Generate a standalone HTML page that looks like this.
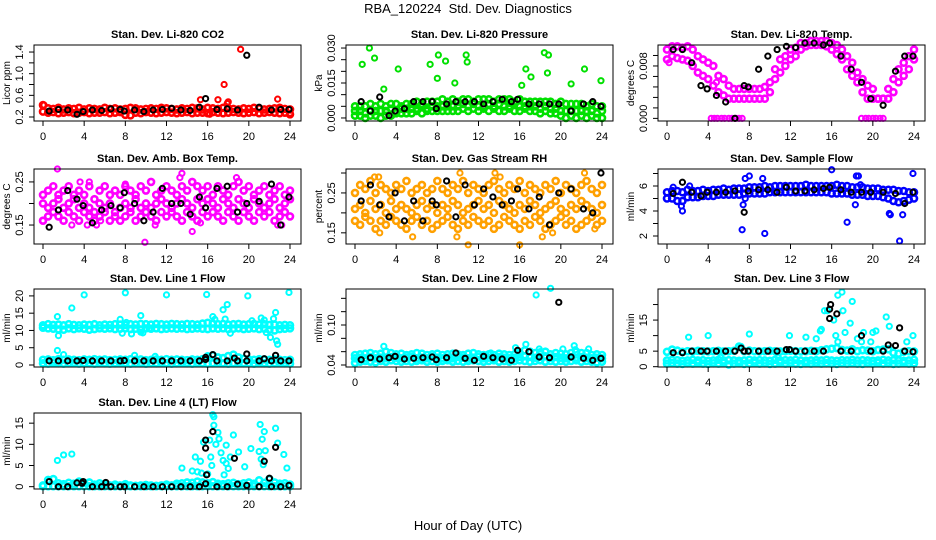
<!DOCTYPE html>
<html><head><meta charset="utf-8"><title>RBA_120224 Std. Dev. Diagnostics</title>
<style>
html,body{margin:0;padding:0;background:#fff;}
svg{display:block;font-family:"Liberation Sans",Arial,sans-serif;}
</style></head>
<body>
<svg id="chart" xmlns="http://www.w3.org/2000/svg" width="936" height="540" viewBox="0 0 936 540">
<rect width="936" height="540" fill="#fff"/>
<text x="468" y="13" text-anchor="middle" font-size="13" style="white-space:pre">RBA_120224  Std. Dev. Diagnostics</text>
<text x="468" y="530" text-anchor="middle" font-size="13">Hour of Day (UTC)</text>
</svg>
<script>
// ---------- data ----------
const blackHours = [0.6,1.5,2.4,3.3,3.9,4.8,5.7,6.6,7.5,7.9,8.9,9.8,10.7,11.6,12.5,13.4,14.3,15.2,15.8,16.9,17.9,18.9,19.8,21.0,22.2,23.1,23.9];

const co2Hi = [0.42,0.36,0.35,0.37,0.34,0.36,0.35,0.37,0.34,0.36,0.35,0.34,0.37,0.35,0.36,0.34,0.35,0.37,0.36,0.34,0.35,0.36,0.35,0.37,0.36,0.35,0.34,0.36,0.35,0.37,0.36,0.34,0.37,0.36,0.35,0.37,0.36,0.35,0.34,0.36,0.35,0.37,0.36,0.34,0.35,0.36,0.37,0.35,0.34];
const co2Lo = [0.30,0.28,0.29,0.27,0.28,0.29,0.27,0.28,0.29,0.27,0.28,0.28,0.29,0.27,0.28,0.29,0.24,0.23,0.28,0.27,0.29,0.28,0.27,0.28,0.29,0.28,0.27,0.28,0.29,0.27,0.28,0.28,0.27,0.29,0.28,0.27,0.28,0.29,0.28,0.27,0.28,0.29,0.27,0.28,0.29,0.28,0.27,0.28,0.25];
const co2OutX = [15.3,17.0,17.6,17.9,18.0,19.2,22.8,16.2,0.1,24.0];
const co2OutY = [0.52,0.52,0.80,0.45,0.48,1.45,0.53,0.25,0.42,0.27];
const co2Blk = [0.31,0.34,0.33,0.25,0.30,0.33,0.32,0.35,0.34,0.31,0.33,0.30,0.33,0.34,0.36,0.33,0.32,0.38,0.54,0.34,0.35,0.33,1.34,0.38,0.33,0.34,0.34];

const prHi = [0.005,0.005,0.005,0.006,0.005,0.006,0.005,0.006,0.006,0.005,0.006,0.006,0.007,0.006,0.007,0.007,0.007,0.008,0.007,0.008,0.007,0.008,0.008,0.007,0.008,0.008,0.008,0.007,0.008,0.008,0.008,0.007,0.008,0.007,0.007,0.007,0.007,0.007,0.007,0.006,0.007,0.006,0.006,0.006,0.006,0.005,0.006,0.005,0.005];
const prMid = [0.003,0.003,0.002,0.003,0.003,0.003,0.003,0.004,0.003,0.004,0.004,0.004,0.004,0.005,0.004,0.005,0.005,0.005,0.005,0.005,0.005,0.006,0.005,0.006,0.005,0.005,0.006,0.005,0.006,0.005,0.005,0.006,0.005,0.005,0.005,0.005,0.004,0.005,0.004,0.004,0.003,0.003,0.003,0.003,0.003,0.003,0.003,0.002,0.003];
const prLo = [0.001,0.001,0.000,0.001,0.001,0.000,0.001,0.001,0.002,0.002,0.002,0.002,0.003,0.002,0.003,0.003,0.003,0.003,0.003,0.003,0.003,0.004,0.003,0.004,0.003,0.004,0.003,0.004,0.003,0.003,0.004,0.003,0.003,0.004,0.003,0.003,0.002,0.003,0.002,0.002,0.001,0.000,0.001,0.000,0.001,0.000,0.001,0.000,0.000];
const prOutX = [0.7,1.4,1.9,2.8,4.2,7.3,8.0,8.1,8.8,9.7,10.8,10.9,16.2,16.6,17.1,18.4,18.7,18.8,21.0,22.3,23.9];
const prOutY = [0.023,0.030,0.0257,0.0124,0.021,0.023,0.017,0.027,0.0244,0.015,0.027,0.024,0.014,0.021,0.0176,0.028,0.0193,0.027,0.0146,0.021,0.016];
const prBlk = [0.007,0.003,0.009,0.001,0.003,0.004,0.007,0.007,0.007,0.004,0.006,0.007,0.007,0.007,0.006,0.007,0.008,0.007,0.008,0.006,0.006,0.006,0.006,0.003,0.006,0.007,0.005];

const tHi = [0.0105,0.011,0.011,0.0108,0.011,0.0105,0.0095,0.009,0.0085,0.008,0.0065,0.006,0.005,0.0045,0.0045,0.0045,0.0045,0.0045,0.0045,0.0048,0.0055,0.0075,0.009,0.0095,0.0105,0.0108,0.0115,0.0115,0.0118,0.0118,0.0118,0.0118,0.0115,0.0112,0.0105,0.0095,0.0085,0.007,0.006,0.005,0.0045,0.003,0.003,0.0045,0.006,0.0075,0.0085,0.0095,0.0105];
const tLo = [0.009,0.0095,0.0092,0.009,0.0088,0.008,0.007,0.0065,0.006,0.005,0.004,0.0035,0.003,0.003,0.003,0.003,0.003,0.003,0.003,0.003,0.004,0.006,0.007,0.008,0.009,0.0095,0.0105,0.011,0.0112,0.0112,0.0112,0.011,0.0105,0.0098,0.009,0.0075,0.0065,0.0055,0.004,0.003,0.003,0.003,0.003,0.003,0.004,0.0055,0.0065,0.0075,0.009];
const tOutX = [4.3,4.6,4.9,5.3,5.6,6.0,6.3,6.7,7.0,7.3,18.9,19.3,19.6,20.0,20.3,20.7,21.0,0.2,4.8];
const tOutY = [0,0,0,0,0,0,0,0,0,0,0,0,0,0,0,0,0,0.0085,0.0055];
const tBlk = [0.0105,0.0105,0.0085,0.005,0.0045,0.0035,0.0025,0.0,0.005,0.0048,0.0075,0.0095,0.0105,0.011,0.0108,0.0115,0.0115,0.0112,0.0115,0.0095,0.0075,0.0055,0.003,0.002,0.0072,0.0095,0.0095];

const abHi = [0.22,0.23,0.24,0.22,0.23,0.24,0.22,0.23,0.22,0.24,0.21,0.23,0.24,0.22,0.23,0.22,0.24,0.23,0.22,0.24,0.23,0.25,0.22,0.23,0.24,0.23,0.22,0.24,0.23,0.25,0.24,0.23,0.24,0.22,0.24,0.23,0.22,0.24,0.25,0.23,0.24,0.22,0.23,0.24,0.22,0.23,0.24,0.22,0.23];
const abMid = [0.20,0.19,0.20,0.21,0.19,0.20,0.21,0.19,0.20,0.19,0.18,0.20,0.19,0.20,0.18,0.19,0.20,0.19,0.21,0.19,0.20,0.19,0.20,0.21,0.20,0.19,0.20,0.21,0.20,0.19,0.21,0.20,0.21,0.20,0.19,0.21,0.20,0.19,0.21,0.20,0.19,0.21,0.20,0.19,0.20,0.21,0.19,0.20,0.21];
const abLo = [0.16,0.17,0.18,0.17,0.16,0.18,0.17,0.16,0.18,0.17,0.16,0.17,0.18,0.16,0.17,0.16,0.17,0.18,0.16,0.17,0.18,0.17,0.16,0.18,0.17,0.18,0.17,0.16,0.18,0.17,0.16,0.18,0.17,0.18,0.17,0.16,0.18,0.17,0.16,0.18,0.17,0.16,0.18,0.17,0.18,0.16,0.17,0.18,0.17];
const abOutX = [1.4,0.0,2.8,3.6,4.3,5.2,5.6,9.9,10.9,13.5,13.3,14.5,15.3,18.8,22.8,23.2,4.5,8.0];
const abOutY = [0.28,0.16,0.15,0.25,0.15,0.15,0.16,0.11,0.15,0.27,0.26,0.135,0.155,0.26,0.15,0.15,0.25,0.245];
const abBlk = [0.145,0.185,0.23,0.21,0.195,0.155,0.185,0.195,0.19,0.225,0.2,0.16,0.18,0.235,0.2,0.2,0.175,0.215,0.19,0.235,0.24,0.18,0.2,0.205,0.245,0.15,0.215];

const rhHi = [0.25,0.27,0.26,0.28,0.25,0.27,0.26,0.25,0.27,0.26,0.28,0.25,0.26,0.27,0.25,0.26,0.28,0.26,0.25,0.27,0.26,0.28,0.25,0.27,0.26,0.25,0.27,0.28,0.26,0.25,0.27,0.26,0.28,0.25,0.27,0.26,0.25,0.27,0.26,0.28,0.25,0.27,0.26,0.25,0.27,0.28,0.26,0.25,0.27];
const rhMid = [0.21,0.22,0.20,0.23,0.21,0.22,0.20,0.23,0.21,0.22,0.21,0.20,0.22,0.23,0.21,0.22,0.20,0.22,0.21,0.23,0.22,0.20,0.21,0.22,0.23,0.21,0.22,0.20,0.23,0.22,0.21,0.20,0.22,0.21,0.23,0.22,0.20,0.21,0.22,0.23,0.21,0.20,0.22,0.21,0.23,0.22,0.21,0.20,0.22];
const rhLo = [0.18,0.17,0.19,0.18,0.16,0.18,0.17,0.19,0.18,0.17,0.16,0.18,0.19,0.17,0.18,0.16,0.17,0.18,0.19,0.17,0.16,0.18,0.17,0.19,0.18,0.17,0.18,0.16,0.17,0.19,0.18,0.17,0.16,0.18,0.17,0.19,0.18,0.16,0.17,0.18,0.19,0.17,0.18,0.16,0.17,0.18,0.19,0.17,0.18];
const rhOutX = [1.9,2.4,5.6,9.9,11.0,13.6,14.1,16.0,18.2,19.2,22.3,23.3,2.3,10.2];
const rhOutY = [0.29,0.15,0.14,0.14,0.12,0.30,0.29,0.12,0.14,0.15,0.30,0.16,0.29,0.30];
const rhBlk = [0.23,0.27,0.22,0.19,0.25,0.18,0.23,0.18,0.23,0.22,0.28,0.19,0.27,0.22,0.26,0.24,0.22,0.23,0.26,0.21,0.24,0.17,0.25,0.26,0.21,0.20,0.30];

const sfHi = [5.5,5.6,5.6,5.5,5.7,5.6,5.6,5.7,5.6,5.7,5.7,5.8,5.7,5.8,5.8,5.8,5.9,5.9,5.9,6.0,5.9,6.0,6.0,6.0,6.0,6.0,6.0,6.1,6.0,6.0,6.0,6.0,6.0,6.1,6.0,6.0,5.9,5.9,5.9,5.8,5.8,5.8,5.7,5.7,5.7,5.6,5.6,5.5,5.5];
const sfLo = [5.0,5.0,4.8,4.8,5.1,5.1,5.1,5.2,5.2,5.2,5.3,5.3,5.3,5.3,5.3,5.4,5.4,5.4,5.4,5.4,5.5,5.5,5.5,5.5,5.5,5.5,5.5,5.5,5.5,5.5,5.5,5.5,5.4,5.4,5.4,5.4,5.3,5.3,5.3,5.2,5.2,5.2,5.1,5.0,4.8,4.7,4.8,4.9,5.0];
const sfOutX = [0.6,1.4,1.5,2.2,7.3,7.4,7.6,7.6,8.0,9.3,9.5,16.0,17.5,18.3,18.4,18.6,21.6,21.7,22.6,22.9,23.9,18.8];
const sfOutY = [5.9,4.4,4.0,6.0,2.5,4.5,5.0,6.6,6.8,6.6,2.2,7.3,3.1,4.5,6.8,6.8,3.8,3.7,1.6,3.7,7.0,6.1];
const sfBlk = [5.4,6.3,5.5,5.2,5.5,5.5,5.5,5.6,3.9,5.6,5.7,5.7,5.5,5.9,5.6,5.6,5.7,5.8,5.9,5.7,5.5,5.5,5.5,5.5,5.4,4.6,5.5];

const l1Hi = [11.5,11.8,11.6,11.7,11.5,11.8,11.6,11.5,11.7,11.6,11.8,11.5,11.7,11.6,11.8,11.7,11.6,11.8,11.7,11.9,11.8,11.7,11.9,11.8,11.7,11.9,11.8,11.7,11.9,11.8,11.7,12.0,12.2,12.0,11.8,11.9,11.7,11.8,11.9,11.7,11.8,11.9,11.7,11.8,11.6,11.7,11.5,11.6,11.5];
const l1Lo = [10.8,10.6,10.5,10.3,10.2,10.6,10.4,10.6,10.5,10.2,10.4,10.6,10.5,10.6,10.4,10.5,10.6,10.4,10.5,10.3,10.6,10.5,10.6,10.4,10.5,10.6,10.5,10.6,10.4,10.5,10.6,10.5,10.4,10.6,10.5,10.6,10.4,10.5,10.6,10.4,10.5,10.6,10.4,10.5,10.2,10.0,10.4,10.5,10.6];
const l1Base = [0.5,0.4,0.6,0.5,0.4,0.5,0.6,0.4,0.5,0.5,0.4,0.6,0.5,0.4,0.5,0.6,0.5,0.4,0.5,0.6,0.4,0.5,0.5,0.6,0.5,0.4,0.5,0.6,0.5,0.4,0.6,0.5,0.4,0.5,0.6,0.5,0.4,0.5,0.6,0.5,0.5,0.4,0.6,0.5,0.4,0.5,0.6,0.5,0.4];
const l1Base2 = [1.5,1.6,1.4,1.7,1.5,1.6,1.5,1.4,1.6,1.5,1.7,1.5,1.6,1.4,1.5,1.6,1.5,1.7,1.5,1.6,1.4,1.5,1.6,1.5,1.7,1.5,1.6,1.5,1.4,1.6,1.5,1.7,2.5,2.8,2.2,2.0,2.6,3.0,2.2,1.8,1.6,1.5,1.7,1.6,1.5,1.6,1.5,1.4,1.5];
const l1OutX = [1.4,1.5,1.4,2.0,2.8,4.0,7.5,7.7,8.0,8.1,8.6,8.9,9.5,9.7,10.9,12.0,15.9,16.5,16.7,17.5,17.7,17.9,18.2,19.9,20.3,21.2,21.5,21.7,22.1,22.4,22.6,22.7,22.8,23.9,9.5,10.3];
const l1OutY = [14.0,8.5,4.2,3.0,16.5,20.3,13.2,9.2,20.9,12.3,9.0,2.8,14.3,9.3,2.5,20.3,20.4,14.0,13.2,16.0,13.3,17.5,9.2,20.0,12.8,13.6,13.0,9.4,8.0,13.4,15.2,7.0,6.0,21.0,9.5,10.5];
const l1Blk = [1.2,1.2,1.2,1.2,1.3,1.2,1.2,1.2,1.2,1.3,1.2,1.2,1.2,1.2,1.2,1.2,1.2,1.2,2.2,1.2,1.2,1.2,1.2,1.2,1.2,1.2,1.2];
const l1BlkOutX = [16.5,19.8,22.6,18.6,21.5,15.8];
const l1BlkOutY = [3.0,3.2,2.8,2.0,1.8,1.6];

const l2Hi = [0.055,0.056,0.057,0.058,0.056,0.057,0.060,0.058,0.056,0.057,0.055,0.056,0.058,0.057,0.055,0.056,0.057,0.055,0.056,0.057,0.056,0.055,0.057,0.058,0.056,0.055,0.056,0.055,0.057,0.056,0.055,0.056,0.058,0.062,0.060,0.058,0.059,0.060,0.056,0.058,0.057,0.056,0.058,0.060,0.058,0.058,0.055,0.056,0.055];
const l2Mid = [0.050,0.051,0.050,0.052,0.050,0.051,0.050,0.052,0.051,0.050,0.051,0.052,0.050,0.051,0.050,0.052,0.051,0.050,0.051,0.050,0.052,0.051,0.050,0.051,0.052,0.050,0.051,0.050,0.052,0.051,0.050,0.051,0.052,0.053,0.052,0.051,0.052,0.053,0.051,0.052,0.051,0.050,0.052,0.051,0.052,0.051,0.050,0.051,0.050];
const l2Lo = [0.043,0.045,0.046,0.045,0.044,0.046,0.045,0.047,0.046,0.045,0.046,0.045,0.046,0.047,0.045,0.046,0.045,0.046,0.047,0.045,0.046,0.045,0.046,0.047,0.046,0.045,0.046,0.047,0.045,0.046,0.045,0.046,0.047,0.046,0.045,0.046,0.047,0.045,0.046,0.045,0.046,0.045,0.046,0.047,0.045,0.046,0.045,0.044,0.045];
const l2OutX = [2.8,15.6,16.6,17.6,19.0,21.3,21.4,22.7,20.2,17.9,13.2];
const l2OutY = [0.068,0.066,0.071,0.145,0.155,0.069,0.063,0.064,0.064,0.064,0.058];
const l2Blk = [0.048,0.051,0.049,0.051,0.053,0.049,0.050,0.051,0.052,0.048,0.051,0.058,0.050,0.047,0.053,0.051,0.049,0.047,0.062,0.060,0.052,0.051,0.134,0.052,0.050,0.047,0.050];

const l3Lo = [1.0,1.2,1.0,0.9,1.1,1.0,1.2,1.0,0.9,1.1,1.0,1.2,0.7,1.0,1.1,0.9,1.0,1.2,1.0,1.1,0.9,1.0,1.2,1.0,1.1,1.0,0.9,1.1,1.0,1.2,1.0,1.1,1.0,0.9,1.1,1.0,1.2,1.0,0.9,1.1,1.0,1.2,1.0,1.1,0.9,1.0,1.2,1.0,1.1];
const l3Hi = [2.0,2.2,2.1,1.9,2.0,2.2,2.0,2.1,1.9,2.0,2.2,2.0,2.1,2.0,1.9,2.0,2.2,2.0,2.1,2.0,1.9,2.2,2.0,2.1,2.0,2.2,2.0,1.9,2.0,2.1,2.0,2.2,2.0,1.9,2.1,2.0,2.2,2.0,2.1,2.0,1.9,2.0,2.2,2.0,2.1,2.0,1.9,2.0,2.2];
const l3Up = [4.8,5.5,5.2,4.8,5.0,4.9,5.1,5.0,4.9,5.0,5.1,4.9,5.0,5.1,6.5,5.0,5.2,5.0,4.9,5.0,5.1,5.0,4.9,5.0,5.1,5.0,4.9,5.0,5.1,5.0,5.3,5.6,5.8,6.0,5.4,5.2,5.6,5.0,5.3,5.2,5.0,5.4,5.5,5.6,4.5,4.2,4.8,5.0,4.9];
const l3OutX = [15.3,15.6,16.2,16.6,17.0,17.1,18.0,17.8,17.3,16.4,16.6,18.5,19.1,20.0,20.3,21.3,21.6,23.9,2.1,4.0,8.0,11.9,13.5,14.5,14.9,15.0,7.2,23.3,18.9,19.8,5.2,10.8];
const l3OutY = [18.0,18.0,15.0,23.0,24.0,18.0,21.0,14.0,11.0,10.0,8.0,9.0,11.0,11.0,11.5,16.0,13.0,10.0,9.5,10.0,10.5,10.0,9.5,9.0,11.5,12.0,6.5,8.0,8.0,8.0,3.0,3.0];
const l3Blk = [4.5,4.5,5.0,5.0,5.0,5.0,5.0,5.0,5.0,5.0,5.0,5.0,5.0,5.5,5.0,5.0,5.0,5.0,15.5,5.0,5.0,10.0,5.0,5.0,6.8,5.0,4.8];
const l3BlkOutX = [15.8,15.9,16.5,22.6,21.5,7.2,11.9];
const l3BlkOutY = [18.5,20.0,17.0,12.5,7.0,6.0,5.5];

const l4Lo = [0.1,0.1,0.1,0.1,0.1,0.1,0.1,0.1,0.1,0.1,0.1,0.1,0.1,0.1,0.1,0.1,0.1,0.1,0.1,0.1,0.1,0.1,0.1,0.1,0.1,0.1,0.1,0.1,0.1,0.1,0.1,0.1,0.1,0.1,0.1,0.1,0.1,0.1,0.1,0.1,0.1,0.1,0.1,0.1,0.1,0.1,0.1,0.1,0.1];
const l4Hi = [0.3,1.6,1.8,0.8,0.6,0.9,0.7,1.2,0.9,1.0,0.5,0.8,0.6,0.3,0.5,0.3,0.6,0.3,0.2,0.3,0.4,0.3,0.2,0.3,0.5,0.3,0.7,0.8,1.0,0.9,1.2,1.0,0.8,1.1,0.7,0.6,0.8,0.9,0.6,0.8,1.0,0.7,1.5,0.9,1.8,1.0,0.7,0.8,0.5];
const l4OutX = [1.4,2.0,2.8,13.5,14.5,14.8,15.0,15.3,15.4,15.6,16.0,16.2,16.3,16.4,16.5,16.6,16.6,16.8,17.0,17.1,17.3,17.5,17.6,17.8,17.8,18.0,18.2,18.5,19.0,19.6,20.2,21.0,21.1,21.3,21.2,21.4,21.5,21.6,22.6,22.8,23.4,23.7];
const l4OutY = [6.2,7.5,7.7,4.4,3.7,7.0,3.5,6.0,3.2,10.5,3.0,11.0,7.0,5.0,17.0,16.5,14.5,10.0,12.8,11.3,8.0,6.2,2.8,9.8,5.5,4.3,7.0,12.2,8.2,4.7,9.0,8.3,14.7,11.2,6.5,5.2,13.0,8.5,13.8,10.3,7.6,4.4];
const l4Blk = [1.2,0,0,0.9,1.2,0,0,0,0,0,0,0,0,0,0,0,0,0,0.7,0,0,0.6,0.3,0,0,0,0.3];
const l4BlkOutX = [15.8,15.8,15.9,16.5,18.6,22.6,21.5,22.0,3.8,6.1];
const l4BlkOutY = [11.0,9.1,2.8,13.0,6.7,9.3,6.0,2.0,0.8,1.0];

const xTickVals = [0,4,8,12,16,20,24];

// ---------- panel layout (geometry only) ----------
const colLeft = [34,346,658];
const rowTop = [45,169,289,413];
const rowH = [76,75,78,76];
const PW = 267;

const panels = [
 {id:'co2',title:'Stan. Dev. Li-820 CO2',ylab:'Licor ppm',c:0,r:0,dom:[0.126,1.53],ticks:[0.2,0.4,0.6,0.8,1.0,1.2,1.4],labs:{'0.2':'0.2','0.6':'0.6','1':'1.0','1.4':'1.4'},color:'#ff0000',layers:[co2Lo,co2Hi],ox:co2OutX,oy:co2OutY,blk:co2Blk},
 {id:'pressure',title:'Stan. Dev. Li-820 Pressure',ylab:'kPa',c:1,r:0,dom:[-0.0013,0.0313],ticks:[0,0.005,0.01,0.015,0.02,0.025,0.03],labs:{'0':'0.000','0.015':'0.015','0.03':'0.030'},color:'#00e000',layers:[prLo,prMid,prHi],ox:prOutX,oy:prOutY,blk:prBlk},
 {id:'temp',title:'Stan. Dev. Li-820 Temp.',ylab:'degrees C',c:2,r:0,dom:[-0.0004,0.0112],ticks:[0,0.0016,0.0032,0.0048,0.0064,0.008,0.0096],labs:{'0':'0.000','0.008':'0.008'},color:'#ff00ff',layers:[tLo,tHi],ox:tOutX,oy:tOutY,blk:tBlk},
 {id:'ambbox',title:'Stan. Dev. Amb. Box Temp.',ylab:'degrees C',c:0,r:1,dom:[0.106,0.28],ticks:[0.15,0.2,0.25],labs:{'0.15':'0.15','0.25':'0.25'},color:'#ff00ff',layers:[abLo,abMid,abHi],ox:abOutX,oy:abOutY,blk:abBlk},
 {id:'rh',title:'Stan. Dev. Gas Stream RH',ylab:'percent',c:1,r:1,dom:[0.122,0.31],ticks:[0.15,0.2,0.25,0.3],labs:{'0.15':'0.15','0.25':'0.25'},color:'#ffa000',layers:[rhLo,rhMid,rhHi],ox:rhOutX,oy:rhOutY,blk:rhBlk},
 {id:'sampleflow',title:'Stan. Dev. Sample Flow',ylab:'ml/min',c:2,r:1,dom:[1.36,7.36],ticks:[2,3,4,5,6,7],labs:{'2':'2','4':'4','6':'6'},color:'#0000ff',layers:[sfLo,sfHi],ox:sfOutX,oy:sfOutY,blk:sfBlk},
 {id:'line1',title:'Stan. Dev. Line 1 Flow',ylab:'ml/min',c:0,r:2,dom:[-0.58,22.0],ticks:[0,5,10,15,20],labs:{'0':'0','5':'5','10':'10','15':'15','20':'20'},color:'#00ffff',layers:[l1Base,l1Base2,l1Lo,l1Hi],ox:l1OutX,oy:l1OutY,blk:l1Blk,bx:l1BlkOutX,by:l1BlkOutY},
 {id:'line2',title:'Stan. Dev. Line 2 Flow',ylab:'ml/min',c:1,r:2,dom:[0.037,0.154],ticks:[0.04,0.06,0.08,0.1,0.12,0.14],labs:{'0.04':'0.04','0.1':'0.10'},color:'#00ffff',layers:[l2Lo,l2Mid,l2Hi],ox:l2OutX,oy:l2OutY,blk:l2Blk},
 {id:'line3',title:'Stan. Dev. Line 3 Flow',ylab:'ml/min',c:2,r:2,dom:[-0.1,25],ticks:[0,5,10,15,20],labs:{'0':'0','5':'5','15':'15'},color:'#00ffff',layers:[l3Lo,l3Hi,l3Up],ox:l3OutX,oy:l3OutY,blk:l3Blk,bx:l3BlkOutX,by:l3BlkOutY},
 {id:'line4',title:'Stan. Dev. Line 4 (LT) Flow',ylab:'ml/min',c:0,r:3,dom:[-0.55,17.4],ticks:[0,5,10,15],labs:{'0':'0','5':'5','10':'10','15':'15'},color:'#00ffff',layers:[l4Lo,l4Hi],ox:l4OutX,oy:l4OutY,blk:l4Blk,bx:l4BlkOutX,by:l4BlkOutY}
];

const NS='http://www.w3.org/2000/svg';
const svg=document.getElementById('chart');
function mk(tag,attrs,parent){const e=document.createElementNS(NS,tag);for(const k in attrs)e.setAttribute(k,attrs[k]);(parent||svg).appendChild(e);return e;}

panels.forEach(p=>{
  const L=colLeft[p.c], T=rowTop[p.r], H=rowH[p.r], B=T+H;
  const g=mk('g',{});
  
  
  const X=h=>L+9+h*247/24;
  const Y=v=>B-(v-p.dom[0])/(p.dom[1]-p.dom[0])*H;
  const t=mk('text',{x:L+PW/2,y:T-7,'text-anchor':'middle','font-size':'11','font-weight':'bold'},g);
  t.textContent=p.title;
  
  
  const pts=mk('g',{fill:'none','stroke-width':'2'},g);
  
  
  p.layers.forEach(arr=>{
    arr.forEach((v,i)=>{
      const c=mk('circle',{cx:X(i*0.5),cy:Y(v),r:3,stroke:p.color,'stroke-width':'2.6'},pts);
      
      
    });
  });
  p.ox.forEach((h,i)=>{
    const c=mk('circle',{cx:X(h),cy:Y(p.oy[i]),r:2.6,stroke:p.color},pts);
    
    
  });
  p.blk.forEach((v,i)=>{
    const c=mk('circle',{cx:X(blackHours[i]),cy:Y(v),r:2.6,stroke:'#000'},pts);
    
    
  });
  if(p.bx) p.bx.forEach((h,i)=>{
    const c=mk('circle',{cx:X(h),cy:Y(p.by[i]),r:2.6,stroke:'#000'},pts);
    
    
  });
  const bx=mk('rect',{x:L,y:T,width:PW,height:H,fill:'none',stroke:'#000','stroke-width':'1'},g);
  
  
  const xa=mk('g',{},g);
  
  
  xTickVals.forEach(v=>{
    mk('line',{x1:X(v),x2:X(v),y1:B,y2:B+5,stroke:'#000'},xa);
    const tl=mk('text',{x:X(v),y:B+19,'text-anchor':'middle','font-size':'11'},xa);
    tl.textContent=String(v);
    
    
  });
  const ya=mk('g',{},g);
  
  
  p.ticks.forEach(v=>{
    const y=Y(v);
    mk('line',{x1:L-5,x2:L,y1:y,y2:y,stroke:'#000'},ya);
    const key=String(+v.toFixed(6));
    if(p.labs[key]!==undefined){
      const tl=mk('text',{x:0,y:0,'text-anchor':'middle','font-size':'11',transform:`translate(${L-11},${y}) rotate(-90)`},ya);
      tl.textContent=p.labs[key];
      
      
    }
  });
  const yl=mk('text',{x:0,y:0,'text-anchor':'middle','font-size':'10',transform:`translate(${L-24},${T+H/2}) rotate(-90)`},g);
  yl.textContent=p.ylab;
  
  
});
</script>
</body></html>
